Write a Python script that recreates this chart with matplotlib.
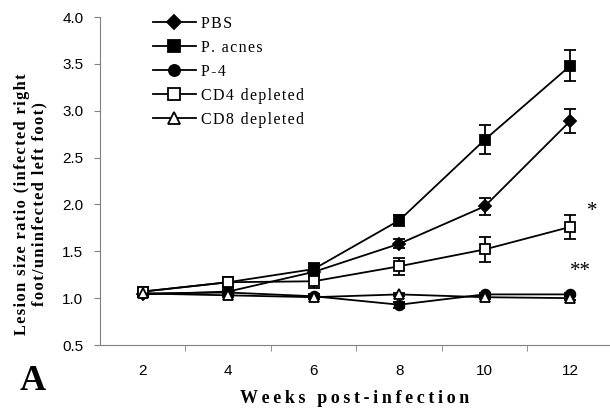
import matplotlib
matplotlib.use('Agg')
import matplotlib.pyplot as plt
from matplotlib.lines import Line2D

# 数据
weeks = [2, 4, 6, 8, 10, 12]
pbs = [1.04, 1.07, 1.28, 1.58, 1.98, 2.89]
pbs_err = [0.03, 0.03, 0.05, 0.05, 0.09, 0.13]
acnes = [1.07, 1.17, 1.31, 1.83, 2.69, 3.48]
acnes_err = [0.03, 0.05, 0.06, 0.06, 0.155, 0.165]
p4 = [1.05, 1.06, 1.02, 0.93, 1.04, 1.04]
p4_err = [0.02, 0.02, 0.02, 0.03, 0.02, 0.02]
cd4 = [1.07, 1.17, 1.18, 1.34, 1.52, 1.76]
cd4_err = [0.03, 0.05, 0.07, 0.09, 0.13, 0.13]
cd8 = [1.05, 1.03, 1.01, 1.04, 1.01, 1.00]
cd8_err = [0.02, 0.02, 0.02, 0.02, 0.02, 0.02]

series = [
    ('PBS', pbs, pbs_err, 'D', 'black'),
    ('P. acnes', acnes, acnes_err, 's', 'black'),
    ('P-4', p4, p4_err, 'o', 'black'),
    ('CD4 depleted', cd4, cd4_err, 's', 'white'),
    ('CD8 depleted', cd8, cd8_err, '^', 'white'),
]

SERIF = ['Liberation Serif', 'DejaVu Serif']


# 字母间加细空格，模仿原图的字距
def spaced(s, sep='\u2009'):
    return sep.join(s)


fig = plt.figure(figsize=(6.1, 4.15), dpi=100)
ax = fig.add_axes([100/610, 70/415, 510/610, 328/415])

handles = []
for name, y, err, mk, fc in series:
    ms = 6 if mk == 'D' else 7
    ax.errorbar(weeks, y, yerr=err, color='black', lw=1.3, marker=mk, ms=ms,
                mfc=fc, mec='black', mew=1.3, capsize=4, capthick=1.3,
                elinewidth=1.3)
    handles.append(Line2D([], [], color='black', lw=1.3, marker=mk, ms=ms + 1,
                          mfc=fc, mec='black', mew=1.3, label=spaced(name, '\u200a')))

ax.set_xlim(1, 12.93)
ax.set_ylim(0.5, 4.0)
ax.set_xticks(weeks)
ax.set_xticklabels([str(w) for w in weeks], fontfamily='Liberation Sans', fontsize=11)
ax.set_xticks([3, 5, 7, 9, 11], minor=True)
ax.tick_params(axis='x', which='major', length=0, pad=14)
ax.tick_params(axis='x', which='minor', length=4, direction='out', color='gray')
ax.set_yticks([0.5, 1.0, 1.5, 2.0, 2.5, 3.0, 3.5, 4.0])
ax.set_yticklabels(['%.1f' % v for v in ax.get_yticks()], fontfamily='Liberation Sans', fontsize=11)
ax.tick_params(axis='y', length=4, direction='out', color='gray', pad=8)
for s in ['top', 'right']:
    ax.spines[s].set_visible(False)
ax.spines['left'].set_color('gray')
ax.spines['bottom'].set_color('gray')

ax.set_xlabel(spaced('Weeks post-infection'), fontfamily=SERIF, fontweight='bold',
              fontsize=13, labelpad=8)
ax.set_ylabel(spaced('Lesion size ratio (infected right', '\u200a') + '\n' +
              spaced('foot/uninfected left foot)', '\u200a'),
              fontfamily=SERIF, fontweight='bold', fontsize=11.8,
              linespacing=1.05)
ax.yaxis.set_label_coords(-0.104, 0.43)

ax.text(12.38, 1.88, '*', fontsize=15, fontfamily=SERIF)
ax.text(12.0, 1.24, '**', fontsize=15, fontfamily=SERIF)
fig.text(20/610, 25/415, 'A', fontsize=26, fontweight='bold', fontfamily=SERIF)

ax.legend(handles=handles, loc='upper left', bbox_to_anchor=(0.075, 1.047), frameon=False,
          handlelength=2.7, handletextpad=0.3, labelspacing=0.5,
          prop={'family': SERIF, 'size': 11.5})

fig.savefig('out.png', dpi=100)
